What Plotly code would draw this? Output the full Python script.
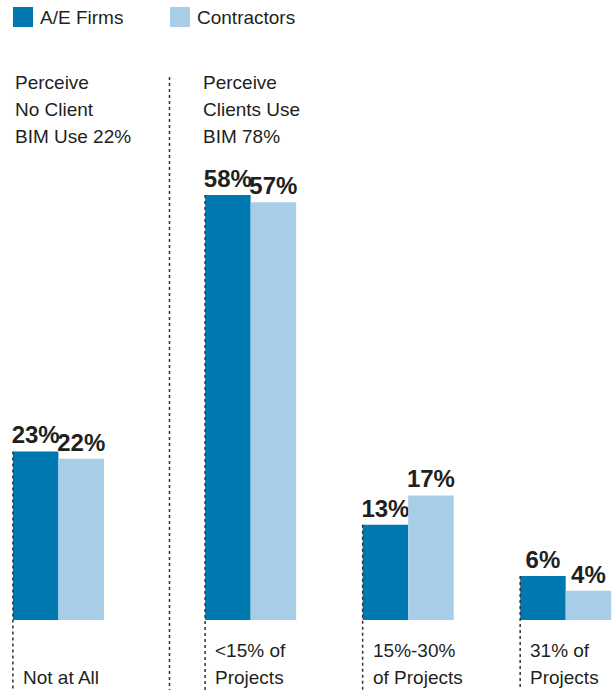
import plotly.graph_objects as go

# data
categories = ["Not at All", "<15% of<br>Projects", "15%-30%<br>of Projects", "31% of<br>Projects"]
ae_firms = [23, 58, 13, 6]
contractors = [22, 57, 17, 4]
headers = ["Perceive<br>No Client<br>BIM Use 22%", "Perceive<br>Clients Use<br>BIM 78%"]

AE_COLOR = "#0078b0"
CON_COLOR = "#a7cde7"
TEXT_COLOR = "#231f20"
FONT = "Liberation Sans, Arial, sans-serif"

W, H = 612, 690
BAR_W = 0.289
GROUP_GAP = 0.22  # extra space after the first group (divider sits there)
Y_MIN, Y_MAX = -9.55, 84.6
LINE_STEP = 27  # px between text lines

pos = [i + (GROUP_GAP if i > 0 else 0) for i in range(len(categories))]

fig = go.Figure()
for vals, name, color in [(ae_firms, "A/E Firms", AE_COLOR), (contractors, "Contractors", CON_COLOR)]:
    fig.add_trace(go.Bar(
        x=pos, y=vals, name=name, width=BAR_W,
        offset=-BAR_W if name == "A/E Firms" else 0,
        marker=dict(color=color, line=dict(width=0)),
        texttemplate="%{y}%", textposition="outside", constraintext="none",
        textfont=dict(family=FONT, size=24, color=TEXT_COLOR, weight="bold"),
        cliponaxis=False, showlegend=False,
    ))

dash = dict(color="#333333", width=1.5, dash="3px,3px")
shapes = []
# dashed lines down the left edge of each group
for p, v in zip(pos, ae_firms):
    shapes.append(dict(type="line", xref="x", yref="y", x0=p - BAR_W, x1=p - BAR_W,
                       y0=v, y1=Y_MIN, line=dash, layer="above"))
# divider between "no client use" and "clients use"
shapes.append(dict(type="line", xref="x", yref="paper", x0=0.705, x1=0.705,
                   y0=1 - 77 / H, y1=0, line=dash))

annotations = []


def add_lines(text, x, xref, top_px, xshift=0):
    # one annotation per line so the line spacing matches the reference
    for i, line in enumerate(text.split("<br>")):
        annotations.append(dict(text=line, xref=xref, yref="paper", x=x, xshift=xshift,
                                y=1 - (top_px + i * LINE_STEP) / H,
                                xanchor="left", yanchor="middle", showarrow=False,
                                font=dict(family=FONT, size=19, color=TEXT_COLOR)))


# legend swatches
for px_left, name, color in [(13, "A/E Firms", AE_COLOR), (170, "Contractors", CON_COLOR)]:
    shapes.append(dict(type="rect", xref="paper", yref="paper",
                       x0=px_left / W, x1=(px_left + 20) / W,
                       y0=1 - 27 / H, y1=1 - 7 / H,
                       fillcolor=color, line=dict(width=0)))
    annotations.append(dict(text=name, xref="paper", yref="paper",
                            x=(px_left + 25) / W, y=1 - 17 / H,
                            xanchor="left", yanchor="middle", showarrow=False,
                            font=dict(family=FONT, size=19, color=TEXT_COLOR)))

# section headers
for px_left, txt in zip([13, 201], headers):
    add_lines(txt, px_left / W, "paper", 82)

# category labels, left aligned under each group, bottom line aligned
for p, cat in zip(pos, categories):
    n = len(cat.split("<br>"))
    add_lines(cat, p - BAR_W, "x", 677 - (n - 1) * LINE_STEP, xshift=8)

fig.update_layout(
    width=W, height=H,
    margin=dict(l=0, r=0, t=0, b=0),
    paper_bgcolor="white", plot_bgcolor="white",
    barmode="overlay",
    xaxis=dict(range=[-0.371, 3.514], visible=False, fixedrange=True),
    yaxis=dict(range=[Y_MIN, Y_MAX], visible=False, fixedrange=True),
    shapes=shapes,
    annotations=annotations,
)

fig.write_html("out.html", config={"displayModeBar": False},
               post_script="document.body.style.margin='0';")
